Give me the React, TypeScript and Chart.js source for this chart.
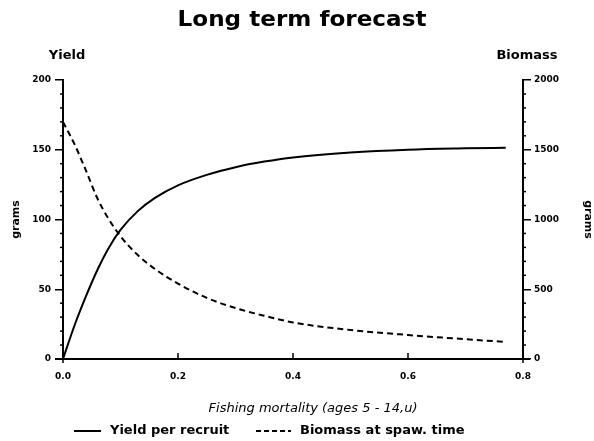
import React, { useEffect, useRef } from "react";
import { Chart, registerables } from "chart.js";

Chart.register(...registerables);

const fishingMortality = [0, 0.02, 0.04, 0.06, 0.08, 0.1, 0.13, 0.16, 0.2, 0.25, 0.3, 0.35, 0.4, 0.5, 0.6, 0.7, 0.77];
const yieldPerRecruit = [0, 24, 45, 64, 80, 92.5, 106, 115.5, 124.5, 132, 137.5, 141.5, 144.5, 148, 150, 151, 151.5];
const biomassSpawn = [1700, 1540, 1350, 1150, 1000, 880, 745, 645, 540, 438, 365, 310, 262, 208, 172, 142, 122];

const xTicks = [0, 0.2, 0.4, 0.6, 0.8];
const yieldTickStep = 50;
const biomassTickStep = 500;
const yieldMinorStep = 10;
const biomassMinorStep = 100;

const chartTitle = "Long term forecast";
const xAxisTitle = "Fishing mortality (ages 5 - 14,u)";
const seriesLabels = ["Yield per recruit", "Biomass at spaw. time"];

const TEXT_FONT = "'DejaVu Sans', sans-serif";

const extrasPlugin = {
  id: "extras",
  afterDraw(chart: any) {
    const ctx = chart.ctx;
    const { x, y, y1 } = chart.scales;
    const area = chart.chartArea;
    ctx.save();
    ctx.strokeStyle = "#000";
    ctx.lineWidth = 1.5;
    // minor ticks
    for (let v = 0; v <= 200; v += yieldMinorStep) {
      if (v % yieldTickStep === 0) continue;
      const py = y.getPixelForValue(v);
      ctx.beginPath();
      ctx.moveTo(area.left - 3, py);
      ctx.lineTo(area.left, py);
      ctx.stroke();
    }
    for (let v = 0; v <= 2000; v += biomassMinorStep) {
      if (v % biomassTickStep === 0) continue;
      const py = y1.getPixelForValue(v);
      ctx.beginPath();
      ctx.moveTo(area.right, py);
      ctx.lineTo(area.right + 3, py);
      ctx.stroke();
    }
    // x axis line extension and tick marks
    ctx.lineWidth = 2;
    ctx.beginPath();
    ctx.moveTo(area.left - 8, area.bottom);
    ctx.lineTo(area.right + 7, area.bottom);
    ctx.stroke();
    ctx.lineWidth = 1.5;
    xTicks.forEach((v, i) => {
      const px = x.getPixelForValue(v);
      ctx.beginPath();
      if (i === 0 || i === xTicks.length - 1) {
        ctx.moveTo(px, area.bottom);
        ctx.lineTo(px, area.bottom + 4);
      } else {
        ctx.moveTo(px, area.bottom - 6);
        ctx.lineTo(px, area.bottom);
      }
      ctx.stroke();
    });
    ctx.fillStyle = "#000";
    ctx.textBaseline = "middle";
    // main title (slightly extended face)
    ctx.save();
    ctx.font = `bold 22px ${TEXT_FONT}`;
    ctx.textAlign = "center";
    ctx.translate(302, 20);
    ctx.scale(1.05, 1);
    ctx.fillText(chartTitle, 0, 0);
    ctx.restore();
    // axis header labels
    ctx.font = `bold 13px ${TEXT_FONT}`;
    ctx.textAlign = "center";
    ctx.fillText("Yield", area.left + 4, 56);
    ctx.fillText("Biomass", area.right + 4, 56);
    // x axis title
    ctx.font = `oblique 13px ${TEXT_FONT}`;
    ctx.fillText(xAxisTitle, 313, 409);
    // legend
    ctx.font = `bold 13px ${TEXT_FONT}`;
    const ly = 431;
    ctx.lineWidth = 2;
    ctx.beginPath();
    ctx.moveTo(74, ly);
    ctx.lineTo(101, ly);
    ctx.stroke();
    ctx.textAlign = "left";
    ctx.fillText(seriesLabels[0], 110, ly);
    ctx.setLineDash([5, 3]);
    ctx.beginPath();
    ctx.moveTo(256, ly);
    ctx.lineTo(291, ly);
    ctx.stroke();
    ctx.setLineDash([]);
    ctx.fillText(seriesLabels[1], 300, ly);
    ctx.restore();
  },
};

export default function App() {
  const canvasRef = useRef<HTMLCanvasElement | null>(null);

  useEffect(() => {
    const canvas = canvasRef.current;
    if (!canvas) return;
    const tickFont = { family: TEXT_FONT, size: 9, weight: "bold" as const };
    const gramsFont = { family: TEXT_FONT, size: 11, weight: "bold" as const };
    const chart = new Chart(canvas, {
      type: "line",
      data: {
        datasets: [
          {
            label: seriesLabels[0],
            data: fishingMortality.map((f, i) => ({ x: f, y: yieldPerRecruit[i] })),
            borderColor: "#000",
            backgroundColor: "#000",
            borderWidth: 2,
            pointRadius: 0,
            cubicInterpolationMode: "monotone",
            yAxisID: "y",
          },
          {
            label: seriesLabels[1],
            data: fishingMortality.map((f, i) => ({ x: f, y: biomassSpawn[i] })),
            borderColor: "#000",
            backgroundColor: "#000",
            borderWidth: 2,
            borderDash: [6, 4],
            pointRadius: 0,
            cubicInterpolationMode: "monotone",
            yAxisID: "y1",
          },
        ],
      },
      options: {
        responsive: false,
        animation: false,
        layout: { padding: { left: 0, right: 0, top: 80, bottom: 22 } },
        plugins: {
          title: { display: false },
          legend: { display: false },
          tooltip: { enabled: false },
        },
        scales: {
          x: {
            type: "linear",
            min: 0,
            max: 0.8,
            afterBuildTicks: (scale: any) => {
              scale.ticks = xTicks.map((v) => ({ value: v }));
            },
            afterFit: (scale: any) => {
              scale.height = 60;
            },
            ticks: {
              color: "#000",
              font: tickFont,
              padding: 12.6,
              callback: (v: any) => Number(v).toFixed(1),
            },
            grid: { drawOnChartArea: false, drawTicks: false, color: "#000", lineWidth: 1.5 },
            border: { display: true, color: "#000", width: 2 },
            title: { display: false },
          },
          y: {
            type: "linear",
            position: "left",
            min: 0,
            max: 200,
            afterFit: (scale: any) => {
              scale.width = 63;
            },
            ticks: { stepSize: yieldTickStep, color: "#000", font: tickFont, padding: 4 },
            grid: { drawOnChartArea: false, tickLength: 8, color: "#000", lineWidth: 1.5 },
            border: { display: true, color: "#000", width: 2 },
            title: {
              display: true,
              text: "grams",
              color: "#000",
              font: gramsFont,
              padding: { top: 10, bottom: 0 },
            },
          },
          y1: {
            type: "linear",
            position: "right",
            min: 0,
            max: 2000,
            afterFit: (scale: any) => {
              scale.width = 71;
            },
            ticks: {
              stepSize: biomassTickStep,
              color: "#000",
              font: tickFont,
              padding: 3,
              callback: (v: any) => String(Math.round(Number(v))),
            },
            grid: { drawOnChartArea: false, tickLength: 8, color: "#000", lineWidth: 1.5 },
            border: { display: true, color: "#000", width: 2 },
            title: {
              display: true,
              text: "grams",
              color: "#000",
              font: gramsFont,
              padding: { top: 0, bottom: 0 },
            },
          },
        },
      },
      plugins: [extrasPlugin],
    });
    return () => chart.destroy();
  }, []);

  return (
    <div style={{ position: "absolute", left: 0, top: 0, width: 594, height: 441, background: "#fff" }}>
      <canvas ref={canvasRef} width={594} height={441} />
    </div>
  );
}
